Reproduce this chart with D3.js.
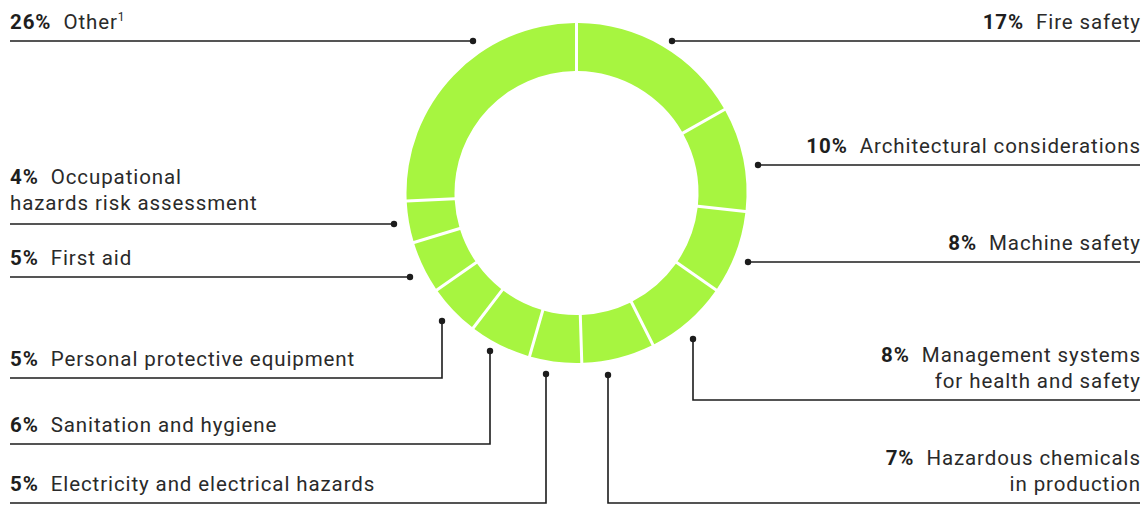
<!DOCTYPE html>
<html>
<head>
<meta charset="utf-8">
<script src="https://cdn.jsdelivr.net/npm/d3@7"></script>
<style>
  html, body { margin: 0; padding: 0; background: #fff; }
  svg { display: block; }
  text { font-family: Roboto, "DejaVu Sans", sans-serif; fill: #2a2a2a; }
</style>
</head>
<body>
<svg id="chart" width="1146" height="505"></svg>
<script>
// ---- data ----
const categories = [
  "Fire safety", "Architectural considerations", "Machine safety",
  "Management systems for health and safety", "Hazardous chemicals in production",
  "Electricity and electrical hazards", "Sanitation and hygiene",
  "Personal protective equipment", "First aid",
  "Occupational hazards risk assessment", "Other"
];
const values = [17, 10, 8, 8, 7, 5, 6, 5, 5, 4, 26];
const labelLines = [
  ["Fire safety"], ["Architectural considerations"], ["Machine safety"],
  ["Management systems", "for health and safety"], ["Hazardous chemicals", "in production"],
  ["Electricity and electrical hazards"], ["Sanitation and hygiene"],
  ["Personal protective equipment"], ["First aid"],
  ["Occupational", "hazards risk assessment"], ["Other"]
];
const footnotes = ["", "", "", "", "", "", "", "", "", "", "1"];

// ---- layout (annotation placement) ----
const W = 1146, H = 505;
const cx = 576.5, cy = 193;
const outerR = 170, innerR = 122;
const leftX = 10, rightX = 1140;
// side, leader dot offset from donut centre, y of the underline
const leaderSide = ["right","right","right","right","right","left","left","left","left","left","left"];
const leaderDot = [[95.5,-152],[181.5,-28],[171.5,69],[116.5,146],[31.5,182],[-30.5,181],[-86.5,158],[-134.5,128],[-166.5,84],[-182.5,31],[-103.5,-152]];
const leaderY = [41, 165, 262, 400, 503, 503, 444, 378, 277, 224, 41];
const textGap = [12, 12, 12, 12, 12, 12, 12, 12, 12, 14, 12];

const svg = d3.select("#chart");
const g = svg.append("g").attr("transform", `translate(${cx},${cy})`);

const pie = d3.pie().sort(null).value(d => d.value);
const arcs = pie(values.map((v, i) => ({ value: v, name: categories[i] })));
const arc = d3.arc().innerRadius(innerR).outerRadius(outerR)
  .padAngle(3 / outerR).padRadius(outerR);

g.selectAll("path.slice").data(arcs).join("path")
  .attr("class", "slice")
  .attr("d", arc)
  .attr("fill", "#a7f540");

// leader lines
const lineColor = "#1c1c1c";
const fs = 20.5, lh = 26, ls = 0.9;
categories.forEach((c, i) => {
  const side = leaderSide[i];
  const dx = cx + leaderDot[i][0], dy = cy + leaderDot[i][1];
  const ly = leaderY[i];
  const endX = side === "left" ? leftX : rightX;
  const pts = Math.abs(dy - ly) < 0.5 ? [[dx, dy], [endX, ly]] : [[dx, dy], [dx, ly], [endX, ly]];
  svg.append("path")
    .attr("d", d3.line()(pts))
    .attr("fill", "none").attr("stroke", lineColor).attr("stroke-width", 1.6);
  svg.append("circle").attr("cx", dx).attr("cy", dy).attr("r", 3.2).attr("fill", lineColor);

  const lines = labelLines[i];
  const n = lines.length;
  lines.forEach((t, k) => {
    const by = ly - textGap[i] - (n - 1 - k) * lh;
    const txt = svg.append("text")
      .attr("x", side === "left" ? leftX : rightX + ls)
      .attr("y", by)
      .attr("font-size", fs)
      .attr("letter-spacing", ls)
      .attr("text-anchor", side === "left" ? "start" : "end");
    if (k === 0) {
      txt.append("tspan").attr("font-weight", 700).attr("fill", "#1e1e1e").text(values[i] + "%");
      txt.append("tspan").attr("dx", 12).text(t);
      if (footnotes[i]) {
        txt.append("tspan").attr("font-size", 12).attr("dy", -8).attr("dx", 0).text(footnotes[i]);
      }
    } else {
      txt.text(t);
    }
  });
});
</script>
</body>
</html>
